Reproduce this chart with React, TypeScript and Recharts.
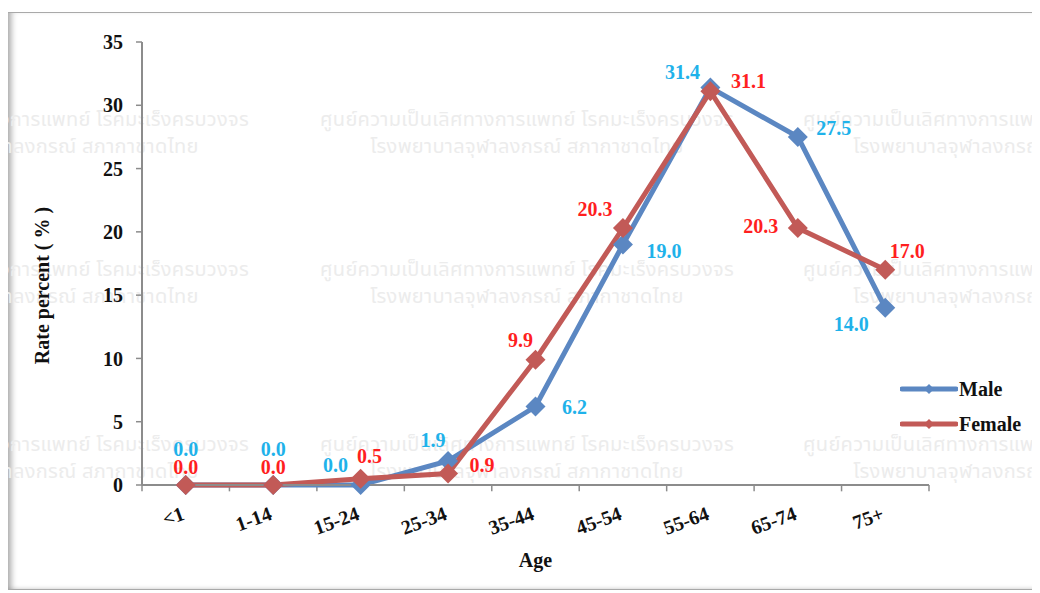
import React from "react";
import { LineChart, Line, XAxis, YAxis, Label, Legend, ReferenceLine } from "recharts";

const categories = ["<1", "1-14", "15-24", "25-34", "35-44", "45-54", "55-64", "65-74", "75+"];
const maleValues = [0.0, 0.0, 0.0, 1.9, 6.2, 19.0, 31.4, 27.5, 14.0];
const femaleValues = [0.0, 0.0, 0.5, 0.9, 9.9, 20.3, 31.1, 20.3, 17.0];
const yTicks = [0, 5, 10, 15, 20, 25, 30, 35];
const seriesNames = ["Male", "Female"];
const yAxisTitle = "Rate percent ( % )";
const xAxisTitle = "Age";
const watermarkLines = [
  "ศูนย์ความเป็นเลิศทางการแพทย์ โรคมะเร็งครบวงจร",
  "โรงพยาบาลจุฬาลงกรณ์ สภากาชาดไทย",
];

// label placement offsets (style only)
const maleLabelOffsets = [
  [0, -36], [0, -36], [-25, -20], [-15, -21], [39, 0], [41, 6], [-28, -16], [36, -9], [-34, 16],
];
const femaleLabelOffsets = [
  [0, -18], [0, -18], [9, -23], [34, -9], [-15, -20], [-28, -19], [38, -10], [-37, -2], [22, -19],
];

const data = categories.map((c, i) => ({
  pos: i + 0.5,
  cat: c,
  male: maleValues[i],
  female: femaleValues[i],
}));
const boundaries = categories.map((_, i) => i).concat([categories.length]);
const labelTicks = categories.map((_, i) => i + 0.5);

const FONT = "'Liberation Serif', 'Times New Roman', serif";
const MALE_COLOR = "#5b87c2";
const FEMALE_COLOR = "#c25a57";
const MALE_LABEL = "#1fb2ea";
const FEMALE_LABEL = "#ff1f1f";
const AXIS_COLOR = "#8c8c8c";

const diamond = (color: string, r: number) => (props: any) => {
  const { cx, cy, index } = props;
  if (cx == null || cy == null) return <g key={index} />;
  return (
    <polygon
      key={`d-${index}`}
      points={`${cx},${cy - r} ${cx + r},${cy} ${cx},${cy + r} ${cx - r},${cy}`}
      fill={color}
    />
  );
};

const makeLabel = (color: string, offsets: number[][]) => (props: any) => {
  const { x, y, value, index } = props;
  if (x == null || y == null) return <g />;
  const off = offsets[index] || [0, -20];
  return (
    <text
      key={`l-${index}`}
      x={x + off[0]}
      y={y + off[1]}
      textAnchor="middle"
      dominantBaseline="central"
      fill={color}
      fontFamily={FONT}
      fontWeight="bold"
      fontSize={20}
    >
      {Number(value).toFixed(1)}
    </text>
  );
};

const XTick = (props: any) => {
  const { x, y, payload } = props;
  const idx = Math.round(payload.value - 0.5);
  const by = y + 34;
  return (
    <text
      x={x}
      y={by}
      textAnchor="end"
      transform={`rotate(-20, ${x}, ${by})`}
      fill="#111"
      fontFamily={FONT}
      fontWeight="bold"
      fontSize={20}
    >
      {categories[idx]}
    </text>
  );
};

const YTitle = (props: any) => {
  const vb = props.viewBox || { x: 0, y: 0, width: 0, height: 0 };
  const cx = vb.x + 34;
  const cy = vb.y + vb.height / 2 + 22;
  return (
    <text
      x={cx}
      y={cy}
      transform={`rotate(-90, ${cx}, ${cy})`}
      textAnchor="middle"
      dominantBaseline="central"
      fill="#111"
      fontFamily={FONT}
      fontWeight="bold"
      fontSize={20}
    >
      {yAxisTitle}
    </text>
  );
};

const XTitle = (props: any) => {
  const vb = props.viewBox || { x: 0, y: 0, width: 0, height: 0 };
  return (
    <text
      x={vb.x + vb.width / 2}
      y={vb.y + 75}
      textAnchor="middle"
      dominantBaseline="central"
      fill="#111"
      fontFamily={FONT}
      fontWeight="bold"
      fontSize={20}
    >
      {xAxisTitle}
    </text>
  );
};

const LegendContent = () => {
  const colors = [MALE_COLOR, FEMALE_COLOR];
  return (
    <div style={{ display: "flex", flexDirection: "column", gap: 11 }}>
      {seriesNames.map((n, i) => (
        <div key={n} style={{ display: "flex", alignItems: "center", height: 24 }}>
          <svg width={58} height={14}>
            <line x1={2} y1={7} x2={56} y2={7} stroke={colors[i]} strokeWidth={5} strokeLinecap="round" />
            <polygon points="29,2 34,7 29,12 24,7" fill={colors[i]} />
          </svg>
          <span
            style={{
              fontFamily: FONT,
              fontWeight: "bold",
              fontSize: 20,
              color: "#111",
              marginLeft: 1,
            }}
          >
            {n}
          </span>
        </div>
      ))}
    </div>
  );
};

const Watermark = () => {
  const colCenters = [42, 527, 1010];
  const rows = [108, 258, 433];
  const items: React.ReactNode[] = [];
  rows.forEach((ry, r) =>
    colCenters.forEach((cx, c) =>
      watermarkLines.forEach((t, k) =>
        items.push(
          <div
            key={`${r}-${c}-${k}`}
            style={{
              position: "absolute",
              left: cx - 8 - 300,
              width: 600,
              top: ry - 14 + k * 27,
              textAlign: "center",
              fontFamily: "'Noto Sans Thai', 'Noto Sans', 'DejaVu Sans', sans-serif",
              fontSize: 20,
              letterSpacing: 0.3,
              color: "#ececec",
              whiteSpace: "nowrap",
              lineHeight: "26px",
            }}
          >
            {t}
          </div>
        )
      )
    )
  );
  return <div style={{ position: "absolute", left: 0, top: 0, width: 1028, height: 576, overflow: "hidden" }}>{items}</div>;
};

export default function App() {
  return (
    <div
      style={{
        position: "relative",
        marginTop: 4,
        marginLeft: -1,
        width: 1028,
        height: 576,
        border: "1px solid #a9a9a9",
        boxShadow: "inset 7px 0 6px -4px rgba(0,0,0,0.35), inset 0 -4px 4px -3px rgba(0,0,0,0.12)",
        background: "#fff",
        overflow: "hidden",
      }}
    >
      <Watermark />
      <div style={{ position: "absolute", left: 0, top: 0 }}>
        <LineChart width={1028} height={576} data={data} margin={{ top: 29, right: 107, left: 0, bottom: 0 }}>
          <XAxis
            dataKey="pos"
            type="number"
            domain={[0, categories.length]}
            ticks={labelTicks}
            tick={<XTick />}
            tickLine={false}
            tickSize={0}
            tickMargin={0}
            axisLine={{ stroke: AXIS_COLOR, strokeWidth: 2 }}
            height={104}
            interval={0}
          >
            <Label content={<XTitle />} />
          </XAxis>
          <YAxis
            type="number"
            domain={[0, 35]}
            ticks={yTicks}
            width={134}
            tickSize={6}
            tickMargin={13}
            tickLine={{ stroke: AXIS_COLOR, strokeWidth: 1.5 }}
            axisLine={{ stroke: AXIS_COLOR, strokeWidth: 2 }}
            tick={{ fill: "#111", fontFamily: FONT, fontWeight: "bold", fontSize: 20 }}
            interval={0}
          >
            <Label content={<YTitle />} />
          </YAxis>
          {boundaries.map((b) => (
            <ReferenceLine
              key={`b-${b}`}
              segment={[{ x: b, y: 0 }, { x: b, y: -0.5 }]}
              stroke={AXIS_COLOR}
              strokeWidth={1.5}
              ifOverflow="visible"
            />
          ))}
          <Legend
            content={<LegendContent />}
            layout="vertical"
            align="center"
            verticalAlign="middle"
            wrapperStyle={{ position: "absolute", left: 892, top: 364, width: 130 }}
          />
          <Line
            dataKey="male"
            name={seriesNames[0]}
            stroke={MALE_COLOR}
            strokeWidth={5}
            dot={diamond(MALE_COLOR, 10)}
            activeDot={false}
            label={makeLabel(MALE_LABEL, maleLabelOffsets)}
            isAnimationActive={false}
          />
          <Line
            dataKey="female"
            name={seriesNames[1]}
            stroke={FEMALE_COLOR}
            strokeWidth={5}
            dot={diamond(FEMALE_COLOR, 10)}
            activeDot={false}
            label={makeLabel(FEMALE_LABEL, femaleLabelOffsets)}
            isAnimationActive={false}
          />
        </LineChart>
      </div>
    </div>
  );
}
